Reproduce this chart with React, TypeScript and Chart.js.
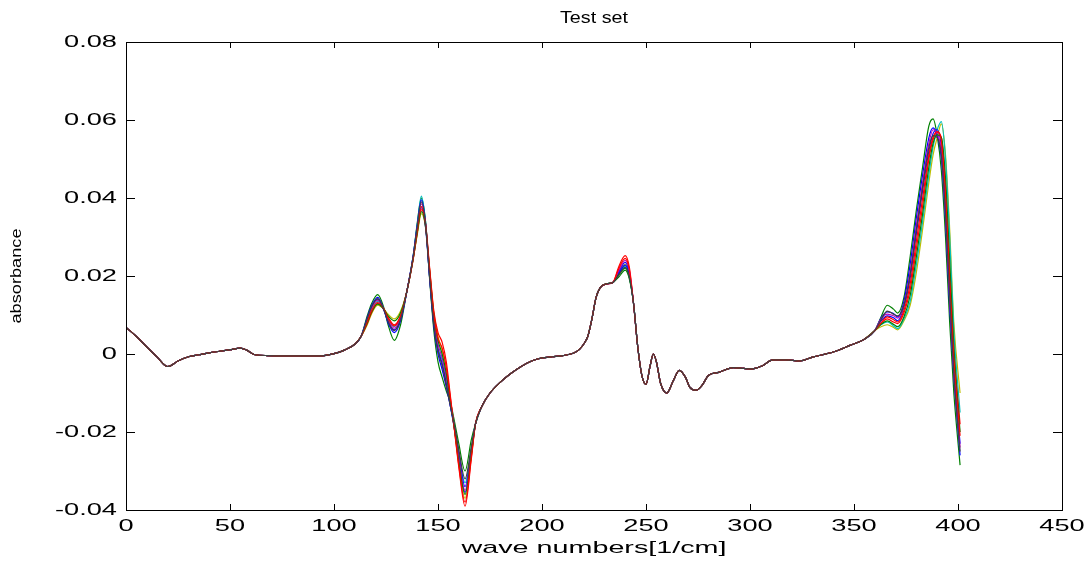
import React, { useEffect, useRef } from "react";
import { Chart, registerables } from "chart.js";

Chart.register(...registerables);

// ---- text ----
const titleText = "Test set";
const xAxisLabel = "wave numbers[1/cm]";
const yAxisLabel = "absorbance";

// ---- ticks ----
const xTicks = [0, 50, 100, 150, 200, 250, 300, 350, 400, 450];
const xTickLabels = ["0", "50", "100", "150", "200", "250", "300", "350", "400", "450"];
const yTicks = [-0.04, -0.02, 0, 0.02, 0.04, 0.06, 0.08];
const yTickLabels = ["-0.04", "-0.02", "0", "0.02", "0.04", "0.06", "0.08"];

// ---- common spectrum ----
const waveNumbers = [
  0, 5, 10, 15, 20, 25, 30, 35, 40, 45, 50, 55, 58, 62, 68, 80, 93, 100, 105, 110,
  113, 116, 118, 121, 124, 126, 129, 132, 135, 138, 140, 142, 144, 146, 148, 150,
  152, 154, 156, 158, 160, 163, 166, 168, 171, 175, 180, 185, 190, 195, 200, 205,
  210, 215, 218, 220, 222, 224, 226, 228, 231, 234, 237, 240, 242, 244, 246, 248,
  250, 252, 253.5, 255, 257, 260, 263, 266, 269, 271, 274, 277, 280, 285, 292, 297,
  301, 306, 311, 317, 324, 330, 340, 348, 355, 360, 363, 366, 369, 371, 374, 377,
  380, 383, 386, 388, 390, 392, 394, 396, 398, 401,
];
const baseAbsorbance = [
  0.0068, 0.0045, 0.0018, -0.0008, -0.0032, -0.0018, -0.0007, -0.0002, 0.0003, 0.0007,
  0.0011, 0.0015, 0.001, -0.0002, -0.0004, -0.0005, -0.0005, 0.0001, 0.001, 0.0025,
  0.0045, 0.0085, 0.0115, 0.0137, 0.0115, 0.009, 0.0068, 0.0095, 0.016, 0.0245,
  0.032, 0.038, 0.033, 0.02, 0.0085, 0.002, -0.002, -0.007, -0.013, -0.019,
  -0.026, -0.0345, -0.025, -0.018, -0.0135, -0.01, -0.0072, -0.005, -0.0032, -0.0018,
  -0.001, -0.0007, -0.0004, 0.0002, 0.0012, 0.0025, 0.0045, 0.009, 0.0145, 0.017,
  0.018, 0.0183, 0.021, 0.0232, 0.0205, 0.013, 0.002, -0.0055, -0.0078, -0.003,
  0.0, -0.002, -0.0075, -0.01, -0.007, -0.0042, -0.006, -0.0085, -0.0093, -0.008,
  -0.0055, -0.0047, -0.0035, -0.0037, -0.0038, -0.003, -0.0015, -0.0015, -0.0018, -0.0008,
  0.0005, 0.0022, 0.0038, 0.006, 0.0082, 0.01, 0.0095, 0.009, 0.0115, 0.018,
  0.029, 0.04, 0.051, 0.0555, 0.0565, 0.054, 0.04, 0.018, -0.002, -0.027,
];

// ---- wave numbers where the individual samples differ ----
const variedWaveNumbers = [
  116, 118, 121, 124, 126, 129, 132, 138, 140, 142, 144, 146, 148, 150, 152, 154, 156, 158, 160, 163, 166,
  237, 240, 242,
  363, 366, 369, 371, 374, 377, 380, 383, 386, 388, 390, 392, 394, 396, 398, 401,
];

// ---- per-sample values at those wave numbers ----
const sampleA = [
  0.009, 0.012, 0.014, 0.0112, 0.0082, 0.0062, 0.009, 0.0245, 0.0318, 0.0375, 0.0325, 0.0195, 0.008, 0.0012, -0.0025, -0.0075, -0.0135, -0.0195, -0.0265, -0.0355, -0.0255,
  0.0212, 0.0235, 0.0207,
  0.0085, 0.0098, 0.0093, 0.0085, 0.012, 0.0195, 0.031, 0.042, 0.052, 0.0565, 0.0575, 0.053, 0.038, 0.015, -0.004, -0.023,
];
const sampleB = [
  0.0098, 0.0128, 0.0152, 0.0118, 0.0075, 0.0035, 0.0075, 0.0245, 0.0335, 0.04, 0.034, 0.019, 0.006, -0.002, -0.006, -0.0095, -0.0125, -0.0175, -0.023, -0.03, -0.022,
  0.0198, 0.0215, 0.0192,
  0.0095, 0.0125, 0.0115, 0.0105, 0.0145, 0.025, 0.037, 0.048, 0.0585, 0.0603, 0.056, 0.047, 0.03, 0.008, -0.01, -0.0285,
];
const sampleC = [
  0.0078, 0.0105, 0.013, 0.0115, 0.0095, 0.0075, 0.0098, 0.024, 0.031, 0.037, 0.0335, 0.022, 0.011, 0.0055, 0.003, -0.002, -0.011, -0.02, -0.029, -0.039, -0.027,
  0.0225, 0.0252, 0.0222,
  0.0078, 0.009, 0.0082, 0.0078, 0.0105, 0.0165, 0.027, 0.038, 0.05, 0.055, 0.0568, 0.0555, 0.043, 0.021, 0.001, -0.018,
];
const sampleD = [
  0.0085, 0.0112, 0.0135, 0.0115, 0.009, 0.007, 0.0097, 0.025, 0.033, 0.0405, 0.034, 0.0205, 0.0085, 0.0015, -0.0015, -0.0065, -0.0128, -0.0188, -0.0255, -0.033, -0.0245,
  0.0205, 0.0225, 0.0198,
  0.0075, 0.0082, 0.0072, 0.0065, 0.009, 0.0135, 0.023, 0.034, 0.046, 0.053, 0.0575, 0.0596, 0.05, 0.03, 0.006, -0.015,
];
const sampleE = [
  0.0087, 0.0116, 0.0138, 0.0114, 0.0088, 0.0066, 0.0094, 0.0245, 0.032, 0.0385, 0.0332, 0.0205, 0.009, 0.0025, -0.001, -0.006, -0.0125, -0.019, -0.0265, -0.035, -0.0252,
  0.0215, 0.024, 0.0212,
  0.009, 0.0102, 0.0098, 0.0092, 0.0125, 0.021, 0.033, 0.044, 0.054, 0.0575, 0.0565, 0.052, 0.036, 0.014, -0.005, -0.024,
];
const sampleF = [
  0.0075, 0.0102, 0.0125, 0.0115, 0.0102, 0.009, 0.011, 0.0242, 0.0305, 0.036, 0.0325, 0.0215, 0.0105, 0.0045, 0.001, -0.004, -0.012, -0.0195, -0.028, -0.037, -0.0262,
  0.021, 0.023, 0.0205,
  0.007, 0.0075, 0.0068, 0.0062, 0.0085, 0.0125, 0.021, 0.032, 0.044, 0.051, 0.0555, 0.059, 0.051, 0.032, 0.008, -0.01,
];
const sampleG = [
  0.0091, 0.012, 0.0142, 0.0113, 0.0084, 0.006, 0.0089, 0.0248, 0.0325, 0.039, 0.0333, 0.0195, 0.0075, 0.0008, -0.003, -0.008, -0.0135, -0.0185, -0.0245, -0.032, -0.0238,
  0.0203, 0.0222, 0.0197,
  0.0088, 0.011, 0.0102, 0.0098, 0.0125, 0.0205, 0.032, 0.043, 0.053, 0.056, 0.0555, 0.051, 0.036, 0.015, -0.005, -0.025,
];
const sampleH = [
  0.0094, 0.0123, 0.0145, 0.0114, 0.008, 0.0055, 0.0085, 0.025, 0.033, 0.0395, 0.0336, 0.0195, 0.007, 0.0, -0.004, -0.0085, -0.0135, -0.019, -0.0255, -0.034, -0.0248,
  0.0207, 0.0228, 0.0201,
  0.0092, 0.0108, 0.0104, 0.0095, 0.0135, 0.023, 0.035, 0.046, 0.0555, 0.058, 0.056, 0.05, 0.034, 0.012, -0.006, -0.026,
];
const sampleI = [
  0.008, 0.0107, 0.0128, 0.0115, 0.0098, 0.0085, 0.0106, 0.0242, 0.031, 0.0365, 0.0328, 0.021, 0.0098, 0.0035, 0.0, -0.005, -0.0125, -0.0195, -0.0275, -0.036, -0.0258,
  0.0204, 0.022, 0.0196,
  0.0076, 0.0085, 0.0076, 0.007, 0.0095, 0.015, 0.025, 0.036, 0.048, 0.054, 0.0562, 0.0555, 0.045, 0.024, 0.002, -0.02,
];
const sampleJ = [
  0.0083, 0.011, 0.0132, 0.0115, 0.0092, 0.0072, 0.0098, 0.0243, 0.0315, 0.0378, 0.0332, 0.0215, 0.0102, 0.004, 0.0015, -0.0035, -0.0115, -0.0198, -0.0285, -0.038, -0.0265,
  0.022, 0.0245, 0.0216,
  0.008, 0.0095, 0.0088, 0.0082, 0.0112, 0.018, 0.029, 0.04, 0.051, 0.0555, 0.057, 0.0545, 0.041, 0.019, -0.001, -0.021,
];

const samples = [sampleA, sampleB, sampleC, sampleD, sampleE, sampleF, sampleG, sampleH, sampleI, sampleJ];
const sampleColors = ["#0000ff", "#008000", "#ff0000", "#00bfbf", "#bf00bf", "#bfbf00", "#404040", "#0000ff", "#008000", "#ff0000"];
const sampleDrawOrder = [6, 9, 4, 7, 3, 8, 0, 5, 2, 1];

const FONT = '"Liberation Sans", Arial, Helvetica, sans-serif';

function drawFitText(
  ctx: CanvasRenderingContext2D,
  text: string,
  x: number,
  y: number,
  size: number,
  widthOrStretch: { width?: number; stretch?: number },
  align: CanvasTextAlign,
  rotate = 0
) {
  ctx.save();
  ctx.font = `${size}px ${FONT}`;
  ctx.textAlign = align;
  ctx.textBaseline = "middle";
  ctx.fillStyle = "#000";
  const w = ctx.measureText(text).width;
  const sx = widthOrStretch.width ? widthOrStretch.width / w : widthOrStretch.stretch || 1;
  ctx.translate(x, y);
  if (rotate) ctx.rotate(rotate);
  ctx.scale(sx, 1);
  ctx.fillText(text, 0, 0);
  ctx.restore();
}

const matlabAxesPlugin = {
  id: "matlabAxes",
  afterDraw(chart: any) {
    const ctx: CanvasRenderingContext2D = chart.ctx;
    const { left, right, top, bottom } = chart.chartArea;
    const xs = chart.scales.x;
    const ys = chart.scales.y;
    ctx.save();
    ctx.strokeStyle = "#000";
    ctx.lineWidth = 1;
    ctx.strokeRect(left + 0.5, top + 0.5, right - left, bottom - top);
    ctx.beginPath();
    xTicks.forEach((v) => {
      const px = Math.round(xs.getPixelForValue(v)) + 0.5;
      ctx.moveTo(px, bottom);
      ctx.lineTo(px, bottom - 6);
      ctx.moveTo(px, top);
      ctx.lineTo(px, top + 6);
    });
    yTicks.forEach((v) => {
      const py = Math.round(ys.getPixelForValue(v)) + 0.5;
      ctx.moveTo(left, py);
      ctx.lineTo(left + 9, py);
      ctx.moveTo(right, py);
      ctx.lineTo(right - 9, py);
    });
    ctx.stroke();
    ctx.restore();

    xTicks.forEach((v, i) => {
      drawFitText(ctx, xTickLabels[i], xs.getPixelForValue(v), bottom + 16, 17, { stretch: 1.6 }, "center");
    });
    yTicks.forEach((v, i) => {
      drawFitText(ctx, yTickLabels[i], left - 9, ys.getPixelForValue(v), 17, { stretch: 1.6 }, "right");
    });
    const cx = (left + right) / 2;
    drawFitText(ctx, titleText, cx, 18, 17, { width: 68 }, "center");
    drawFitText(ctx, xAxisLabel, cx, 548, 17, { width: 265 }, "center");
    drawFitText(ctx, yAxisLabel, 17, (top + bottom) / 2, 14, { width: 95 }, "center", -Math.PI / 2);
  },
};

export default function App() {
  const canvasRef = useRef<HTMLCanvasElement | null>(null);

  useEffect(() => {
    if (!canvasRef.current) return;
    const datasets = samples.map((vals, k) => ({
      label: `sample ${k + 1}`,
      data: waveNumbers.map((x, i) => {
        const j = variedWaveNumbers.indexOf(x);
        return { x, y: j >= 0 ? vals[j] : baseAbsorbance[i] };
      }),
      borderColor: sampleColors[k],
      backgroundColor: sampleColors[k],
      borderWidth: 1.2,
      pointRadius: 0,
      fill: false,
      cubicInterpolationMode: "monotone" as const,
      order: sampleDrawOrder[k],
    }));

    const chart = new Chart(canvasRef.current, {
      type: "line",
      data: { datasets },
      options: {
        responsive: false,
        maintainAspectRatio: false,
        animation: false,
        layout: { padding: { left: 126, top: 42, right: 29, bottom: 55 } },
        plugins: {
          legend: { display: false },
          tooltip: { enabled: false },
          title: { display: false },
        },
        scales: {
          x: { type: "linear", display: false, min: 0, max: 450 },
          y: { type: "linear", display: false, min: -0.04, max: 0.08 },
        },
      },
      plugins: [matlabAxesPlugin],
    });
    return () => chart.destroy();
  }, []);

  return (
    <div style={{ position: "fixed", left: 0, top: 0, width: 1091, height: 565, background: "#fff" }}>
      <canvas ref={canvasRef} width={1091} height={565} style={{ display: "block" }} />
    </div>
  );
}
